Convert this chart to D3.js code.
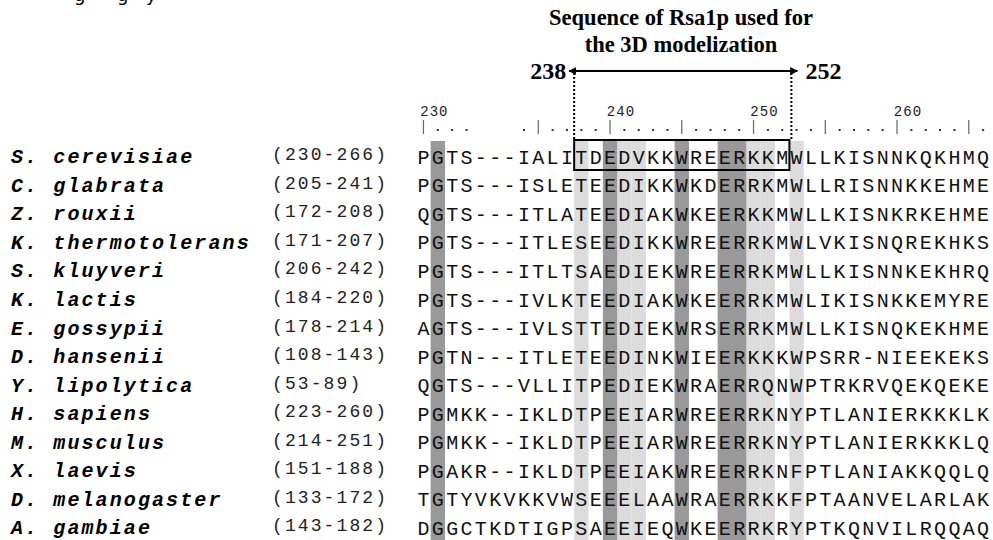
<!DOCTYPE html>
<html><head><meta charset="utf-8">
<script src="https://cdn.jsdelivr.net/npm/d3@7"></script>
<style>html,body{margin:0;padding:0;background:#fff;}svg{display:block;}</style>
</head><body>
<script>
// ---- data ----
const species = ["S. cerevisiae","C. glabrata","Z. rouxii","K. thermotolerans","S. kluyveri","K. lactis","E. gossypii","D. hansenii","Y. lipolytica","H. sapiens","M. musculus","X. laevis","D. melanogaster","A. gambiae"];
const ranges = ["(230-266)","(205-241)","(172-208)","(171-207)","(206-242)","(184-220)","(178-214)","(108-143)","(53-89)","(223-260)","(214-251)","(151-188)","(133-172)","(143-182)"];
const sequences = [
  "PGTS---IALITDEDVKKWREERKKMWLLKISNNKQKHMQ",
  "PGTS---ISLETEEDIKKWKDERRKMWLLRISNNKKEHME",
  "QGTS---ITLATEEDIAKWKEERKKMWLLKISNKRKEHME",
  "PGTS---ITLESEEDIKKWREERRKMWLVKISNQREKHKS",
  "PGTS---ITLTSAEDIEKWREERRKMWLLKISNNKEKHRQ",
  "PGTS---IVLKTEEDIAKWKEERRKMWLIKISNKKEMYRE",
  "AGTS---IVLSTTEDIEKWRSERRKMWLLKISNQKEKHME",
  "PGTN---ITLETEEDINKWIEERKKKWPSRR-NIEEKEKS",
  "QGTS---VLLITPEDIEKWRAERRQNWPTRKRVQEKQEKE",
  "PGMKK--IKLDTPEEIARWREERRKNYPTLANIERKKKLK",
  "PGMKK--IKLDTPEEIARWREERRKNYPTLANIERKKKLQ",
  "PGAKR--IKLDTPEEIAKWREERRKNFPTLANIAKKQQLQ",
  "TGTYVKVKKVWSEEELAAWRAERRKKFPTAANVELARLAK",
  "DGGCTKDTIGPSAEEIEQWKEERRKRYPTKQNVILRQQAQ"
];
const darkCols = [1, 13, 18, 21, 22];
const lightCols = [11, 14, 15, 23, 24, 26];
const rulerStart = 230;
const rulerLabels = [230, 240, 250, 260];
const boxStart = 238, boxEnd = 252;
const titleLines = ["Sequence of Rsa1p used for", "the 3D modelization"];

// ---- layout ----
const W = 993, H = 540;
const nCols = sequences[0].length;
const colW = 14.35;
const x = d3.scaleBand().domain(d3.range(nCols)).range([416.3, 416.3 + nCols*colW]).padding(0);
const y = d3.scaleBand().domain(species).range([143, 143 + species.length*28.55]).padding(0);
const cx = c => x(c) + x.bandwidth()/2;
const cy = s => y(s) + y.bandwidth()/2;

// residue numbering of the reference row
const refNum = [];
{ let n = rulerStart; for (const ch of sequences[0]) { if (ch === "-") refNum.push(null); else refNum.push(n++); } }
const colOf = num => refNum.indexOf(num);

const svg = d3.select("body").append("svg").attr("width", W).attr("height", H)
  .style("font-family", "'Liberation Mono', monospace");

// cut-off text at very top (only descenders visible in the reference)
svg.append("g").attr("font-family","'DejaVu Sans', sans-serif").attr("font-size",18).attr("fill","#000")
  .selectAll("text").data([{t:"g",x:74},{t:"g",x:117},{t:"y",x:146}]).join("text")
  .attr("x", d=>d.x).attr("y", 1).text(d=>d.t);

// shaded columns
const bandTop = 141, bandBottom = H;
svg.append("g").selectAll("rect.light").data(lightCols).join("rect")
  .attr("x", c=>x(c)).attr("width", x.bandwidth()).attr("y", bandTop).attr("height", bandBottom-bandTop)
  .attr("fill", "#dcdcdc");
svg.append("g").selectAll("rect.dark").data(darkCols).join("rect")
  .attr("x", c=>x(c)).attr("width", x.bandwidth()).attr("y", bandTop).attr("height", bandBottom-bandTop)
  .attr("fill", "#999999");

// ruler
const ruler = svg.append("g");
refNum.forEach((n, c) => {
  if (n === null) return;
  if (n % 5 === 0) {
    ruler.append("line").attr("x1", cx(c)).attr("x2", cx(c)).attr("y1", 120).attr("y2", 134)
      .attr("stroke", "#666").attr("stroke-width", 1.2);
  } else {
    ruler.append("rect").attr("x", cx(c)-1).attr("y", 129).attr("width", 2).attr("height", 2).attr("fill", "#333");
  }
});
ruler.selectAll("text").data(rulerLabels).join("text")
  .attr("x", n => x(colOf(n)) + 4).attr("y", 116)
  .attr("font-size", 14).attr("letter-spacing", 1).attr("fill", "#222").text(n => n);

// species names
svg.append("g").selectAll("text").data(species).join("text")
  .attr("x", 11).attr("y", s => cy(s) + 6)
  .attr("font-size", 20).attr("font-weight", "bold").attr("font-style", "italic")
  .attr("letter-spacing", 2.1).attr("fill", "#000").text(s => s);

// ranges
svg.append("g").selectAll("text").data(ranges).join("text")
  .attr("x", 272).attr("y", (r,i) => cy(species[i]) + 3)
  .attr("font-size", 18).attr("letter-spacing", 2.1).attr("fill", "#222").text(r => r);

// sequences
const seqG = svg.append("g").attr("font-size", 20).attr("fill", "#111").attr("text-anchor", "middle");
sequences.forEach((seq, i) => {
  seqG.selectAll(null).data(seq.split("")).join("text")
    .attr("x", (ch, c) => cx(c)).attr("y", cy(species[i]) + 6.5).text(ch => ch);
});

// box around reference segment
const bx0 = x(colOf(boxStart)), bx1 = x(colOf(boxEnd)) + x.bandwidth();
const boxTop = 140, boxBot = 170;
svg.append("rect").attr("x", bx0).attr("y", boxTop).attr("width", bx1-bx0).attr("height", boxBot-boxTop)
  .attr("fill", "none").attr("stroke", "#000").attr("stroke-width", 2);

// dotted guides
const arrowY = 71;
[bx0, bx1 + 2].forEach(xx => {
  svg.append("line").attr("x1", xx).attr("x2", xx).attr("y1", arrowY+2).attr("y2", boxTop)
    .attr("stroke", "#000").attr("stroke-width", 2).attr("stroke-dasharray", "2,2");
});

// double arrow
const defs = svg.append("defs");
defs.append("marker").attr("id","ah").attr("viewBox","0 0 10 10").attr("refX",9).attr("refY",5)
  .attr("markerWidth",4).attr("markerHeight",4).attr("orient","auto-start-reverse")
  .append("path").attr("d","M0,0 L10,5 L0,10 z").attr("fill","#000");
svg.append("line").attr("x1", bx0-5).attr("x2", bx1+8).attr("y1", arrowY).attr("y2", arrowY)
  .attr("stroke","#000").attr("stroke-width",2)
  .attr("marker-start","url(#ah)").attr("marker-end","url(#ah)");

// title + end numbers
const serif = "'Liberation Serif', 'Times New Roman', serif";
svg.append("g").attr("font-family", serif).attr("font-weight","bold").attr("font-size",22.5)
  .attr("text-anchor","middle")
  .selectAll("text").data(titleLines).join("text")
  .attr("x", 681).attr("y", (d,i)=> 25 + i*27).text(d=>d);
svg.append("text").attr("font-family", serif).attr("font-weight","bold").attr("font-size",24)
  .attr("text-anchor","end").attr("x", bx0-8).attr("y", 79).text(boxStart);
svg.append("text").attr("font-family", serif).attr("font-weight","bold").attr("font-size",24)
  .attr("text-anchor","start").attr("x", bx1+16).attr("y", 79).text(boxEnd);
</script>
</body></html>
